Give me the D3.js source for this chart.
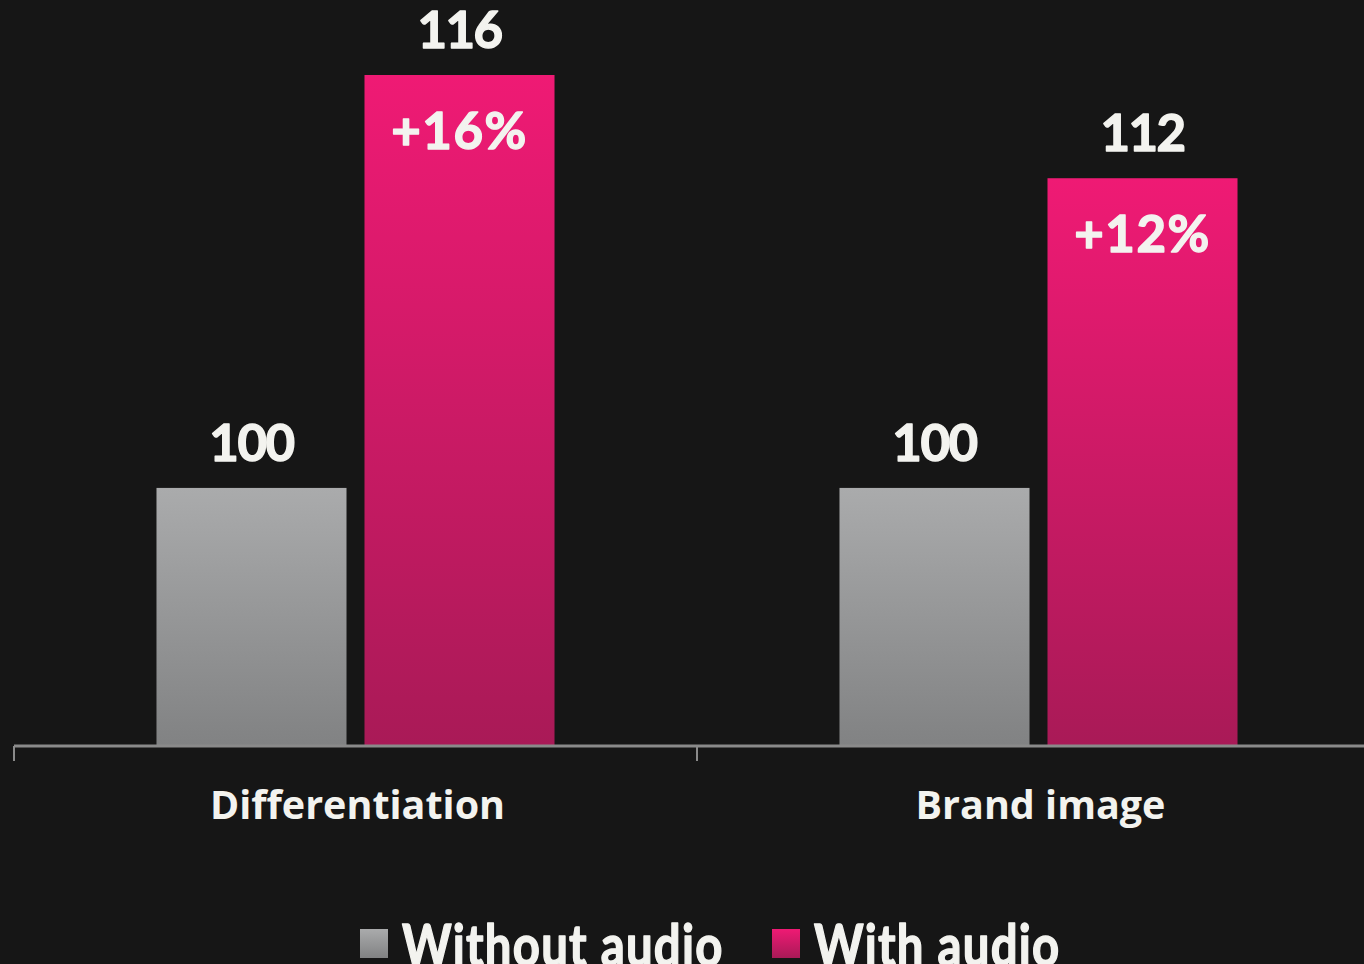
<!DOCTYPE html>
<html>
<head>
<meta charset="utf-8">
<script src="https://cdn.jsdelivr.net/npm/d3@7"></script>
<style>
  html, body { margin: 0; padding: 0; background: #161616; }
  svg { display: block; }
  text { font-family: Lato, "Noto Sans", sans-serif; font-weight: 700; fill: #f3f3ef; font-variant-ligatures: none; }
  text.heavy { stroke: #f3f3ef; stroke-width: 1.4px; stroke-linejoin: round; }
  text.cat { font-family: "Open Sans", Lato, sans-serif; font-weight: 700; }
</style>
</head>
<body>
<svg id="chart" width="1364" height="964"></svg>
<script>
// Indexed scores: campaigns without audio = 100
const categories = ["Differentiation", "Brand image"];
const series = ["Without audio", "With audio"];
const withoutAudio = [100, 100];
const withAudio = [116, 112];
const upliftLabels = ["+16%", "+12%"];

const width = 1364, height = 964;
const svg = d3.select("#chart");

const defs = svg.append("defs");
const gradients = [
  { id: "grad-grey", top: "#aaabac", bottom: "#818283" },
  { id: "grad-pink", top: "#ef1a74", bottom: "#a91a57" }
];
gradients.forEach(g => {
  const lg = defs.append("linearGradient")
    .attr("id", g.id).attr("x1", 0).attr("y1", 0).attr("x2", 0).attr("y2", 1);
  lg.append("stop").attr("offset", "0%").attr("stop-color", g.top);
  lg.append("stop").attr("offset", "100%").attr("stop-color", g.bottom);
});
const fills = ["url(#grad-grey)", "url(#grad-pink)"];

const baseY = 746;
const x0 = d3.scaleBand().domain(categories).range([14, 1380]).paddingInner(0).paddingOuter(0);
const x1 = d3.scaleBand().domain(series).range([0, x0.bandwidth()]).paddingInner(0.0865).paddingOuter(0.685);
const y = d3.scaleLinear().domain([90, 116]).range([baseY, 75]);

const rows = categories.map((c, i) => ({
  category: c,
  values: [withoutAudio[i], withAudio[i]],
  uplift: upliftLabels[i]
}));

const groups = svg.append("g").selectAll("g")
  .data(rows).join("g")
  .attr("transform", d => `translate(${x0(d.category)},0)`);

groups.selectAll("rect")
  .data(d => d.values.map((v, j) => ({ key: series[j], value: v, j })))
  .join("rect")
  .attr("x", d => x1(d.key))
  .attr("width", x1.bandwidth())
  .attr("y", d => y(d.value))
  .attr("height", d => y.range()[0] - y(d.value))
  .attr("fill", d => fills[d.j]);

// value labels above bars
groups.selectAll("text.value")
  .data(d => d.values.map((v, j) => ({ key: series[j], value: v })))
  .join("text")
  .attr("class", "value heavy")
  .attr("x", d => x1(d.key) + x1.bandwidth() / 2)
  .attr("y", d => y(d.value) - 27)
  .attr("text-anchor", "middle")
  .style("font-size", "51px")
  .style("letter-spacing", "-1.5px")
  .text(d => d.value);

// uplift labels inside the "with audio" bars
groups.append("text")
  .attr("class", "uplift heavy")
  .attr("x", x1(series[1]) + x1.bandwidth() / 2)
  .attr("y", d => y(d.values[1]) + 74)
  .attr("text-anchor", "middle")
  .style("font-size", "51px")
  .style("letter-spacing", "1.5px")
  .text(d => d.uplift);

// category axis
const axis = svg.append("g");
axis.append("line")
  .attr("x1", x0.range()[0]).attr("x2", x0.range()[1])
  .attr("y1", baseY).attr("y2", baseY)
  .attr("stroke", "#8a8a8a").attr("stroke-width", 3);
axis.selectAll("line.tick")
  .data(categories).join("line")
  .attr("class", "tick")
  .attr("x1", d => x0(d)).attr("x2", d => x0(d))
  .attr("y1", baseY).attr("y2", baseY + 15)
  .attr("stroke", "#8a8a8a").attr("stroke-width", 2);
axis.selectAll("text")
  .data(categories).join("text")
  .attr("class", "cat")
  .attr("x", d => x0(d) + x0.bandwidth() / 2 + 2)
  .attr("y", 819)
  .attr("text-anchor", "middle")
  .style("font-size", "39.5px")
  .text(d => d);

// legend (tall, condensed type running off the bottom edge)
const legendItems = [
  { label: series[0], x: 360, fill: fills[0] },
  { label: series[1], x: 772, fill: fills[1] }
];
const legend = svg.append("g").selectAll("g").data(legendItems).join("g")
  .attr("transform", d => `translate(${d.x},929)`);
legend.append("rect").attr("width", 28).attr("height", 29).attr("fill", d => d.fill);
legend.append("text")
  .attr("class", "heavy")
  .attr("transform", "translate(42,37) scale(0.83,1)")
  .style("font-size", "57px")
  .style("letter-spacing", "1.5px")
  .text(d => d.label);
</script>
</body>
</html>
